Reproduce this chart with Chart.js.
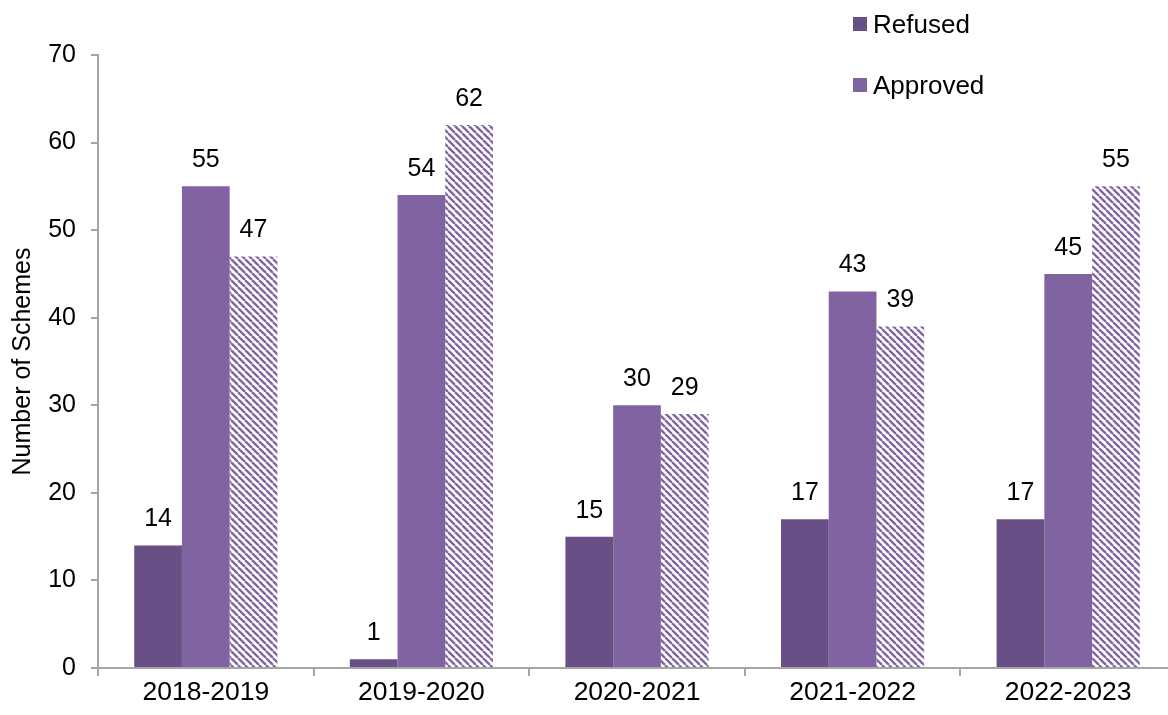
<!DOCTYPE html>
<html>
<head>
<meta charset="utf-8">
<script src="https://cdn.jsdelivr.net/npm/chart.js@4/dist/chart.umd.min.js"></script>
<style>
  html, body { margin: 0; padding: 0; background: #fff; overflow: hidden; }
  #wrap { position: relative; width: 1168px; height: 715px; overflow: hidden; }
  #legend { position: absolute; left: 853px; top: 6px; font-family: "Liberation Sans", Arial, sans-serif; font-size: 26px; color: #000; }
  #legend div { display: flex; align-items: center; height: 36px; margin-bottom: 25px; }
  #legend span.box { display: inline-block; width: 14px; height: 14px; margin-right: 6px; }
</style>
</head>
<body>
<div id="wrap">
  <canvas id="chart" width="1180" height="715"></canvas>
  <div id="legend"></div>
</div>
<script>
const years = ['2018-2019', '2019-2020', '2020-2021', '2021-2022', '2022-2023'];
const refused = [14, 1, 15, 17, 17];
const approved = [55, 54, 30, 43, 45];
const hatched = [47, 62, 29, 39, 55];
const yTicks = [0, 10, 20, 30, 40, 50, 60, 70];

const darkPurple = '#684f86';
const purple = '#8064a2';
const fontFamily = '"Liberation Sans", Arial, sans-serif';

function makeStripes(color) {
    const size = 7;
    const c = document.createElement('canvas');
    c.width = size;
    c.height = size;
    const g = c.getContext('2d');
    g.fillStyle = '#fff';
    g.fillRect(0, 0, size, size);
    g.strokeStyle = color;
    g.lineWidth = 2.3;
    g.beginPath();
    // "\" direction stripes, tiled seamlessly
    for (let k = -1; k <= 1; k++) {
        g.moveTo(k * size, 0);
        g.lineTo(k * size + size, size);
    }
    g.stroke();
    return g.createPattern(c, 'repeat');
}

const valueLabels = {
    id: 'valueLabels',
    afterDatasetsDraw(chart) {
        const ctx = chart.ctx;
        ctx.save();
        ctx.font = '25px ' + fontFamily;
        ctx.fillStyle = '#000';
        ctx.textAlign = 'center';
        ctx.textBaseline = 'alphabetic';
        chart.data.datasets.forEach((ds, i) => {
            chart.getDatasetMeta(i).data.forEach((bar, j) => {
                ctx.fillText(ds.data[j], bar.x, bar.y - 19);
            });
        });
        ctx.restore();
    }
};

const ctx = document.getElementById('chart').getContext('2d');
const chart = new Chart(ctx, {
    type: 'bar',
    data: {
        labels: years,
        datasets: [
            { label: 'Refused', data: refused, backgroundColor: darkPurple },
            { label: 'Approved', data: approved, backgroundColor: purple },
            { label: '', data: hatched, backgroundColor: makeStripes(purple) }
        ]
    },
    options: {
        responsive: false,
        animation: false,
        layout: { padding: { top: 55, right: 4, left: 0, bottom: 0 } },
        datasets: { bar: { categoryPercentage: 0.664, barPercentage: 1 } },
        plugins: { legend: { display: false }, tooltip: { enabled: false } },
        scales: {
            x: {
                grid: { display: true, drawOnChartArea: false, offset: true, color: '#a6a6a6', lineWidth: 2, tickLength: 8 },
                border: { color: '#a6a6a6', width: 2 },
                ticks: { color: '#000', font: { size: 26.5, family: fontFamily }, padding: 1, maxRotation: 0 },
                afterFit(s) { s.height = 47; }
            },
            y: {
                min: 0,
                max: 70,
                afterBuildTicks(s) { s.ticks = yTicks.map(v => ({ value: v })); },
                grid: { display: true, drawOnChartArea: false, color: '#a6a6a6', lineWidth: 2, tickLength: 7 },
                border: { color: '#a6a6a6', width: 2 },
                ticks: { color: '#000', font: { size: 25, family: fontFamily }, padding: 15 },
                title: { display: true, text: 'Number of Schemes', color: '#000', font: { size: 25, family: fontFamily }, padding: { top: 8, bottom: 0 } },
                afterFit(s) { s.width = 98; }
            }
        }
    },
    plugins: [valueLabels]
});

// legend for the two solid series only
const legend = document.getElementById('legend');
chart.data.datasets.slice(0, 2).forEach(ds => {
    const row = document.createElement('div');
    const box = document.createElement('span');
    box.className = 'box';
    box.style.background = ds.backgroundColor;
    row.appendChild(box);
    row.appendChild(document.createTextNode(ds.label));
    legend.appendChild(row);
});
</script>
</body>
</html>
